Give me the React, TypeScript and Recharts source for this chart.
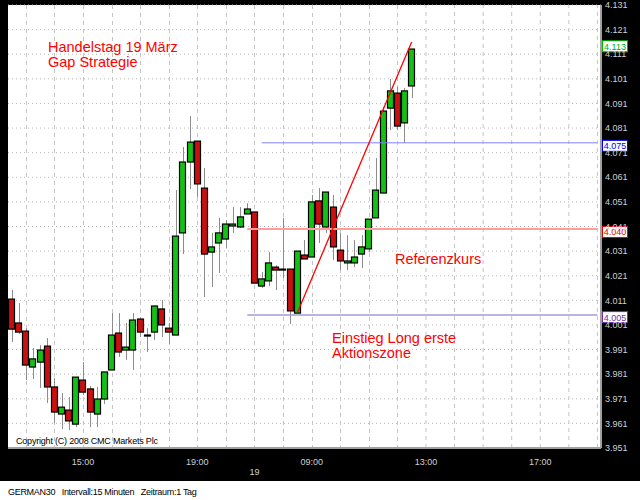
import React from 'react';
import { ComposedChart, Bar, Line, XAxis, YAxis, CartesianGrid, ReferenceLine } from 'recharts';

// 15 minute slots, day 18 afternoon and day 19
const day18Times = ['12:30','12:45','13:00','13:15','13:30','13:45','14:00','14:15','14:30','14:45',
  '15:00','15:15','15:30','15:45','16:00','16:15','16:30','16:45','17:00','17:15','17:30','17:45',
  '18:00','18:15','18:30','18:45','19:00','19:15','19:30','19:45','20:00','20:15','20:30','20:45'];
const day19Times = ['07:00','07:15','07:30','07:45','08:00','08:15','08:30','08:45','09:00','09:15',
  '09:30','09:45','10:00','10:15','10:30','10:45','11:00','11:15','11:30','11:45','12:00','12:15',
  '12:30','12:45','13:00','13:15','13:30','13:45','14:00','14:15','14:30','14:45','15:00','15:15',
  '15:30','15:45','16:00','16:15','16:30','16:45','17:00','17:15','17:30','17:45','18:00','18:15',
  '18:30','18:45','19:00'];

const opens = [4.0115, 4.0018, 3.9985, 3.9839, 3.9859, 3.9924, 3.9758, 3.9648, 3.9664, 3.9607,
  3.9786, 3.9750, 3.9648, 3.9709, 3.9827, 3.9977, 3.9908, 3.9908, 4.0034, 3.9969,
  3.9981, 4.0075, 3.9997, 3.9969, 4.0384, 4.0672, 4.0757, 4.0566, 4.0306, 4.0343,
  4.0359, 4.0412, 4.0408, 4.0461, 4.0469, 4.0168, 4.0189, 4.0245, 4.0237, 4.0237,
  4.0058, 4.0294, 4.0286, 4.0514, 4.0408, 4.0489, 4.0314, 4.0262, 4.0262, 4.0298,
  4.0319, 4.0445, 4.0546, 4.0891, 4.0952, 4.0831, 4.0981];
const highs = [4.0152, 4.0099, 3.9997, 3.9916, 3.9928, 3.9957, 3.9794, 3.9733, 3.9717, 3.9798,
  3.9859, 3.9762, 3.9758, 3.9819, 4.0058, 4.0058, 4.0018, 4.0058, 4.0042, 3.9997,
  4.0087, 4.0111, 4.0018, 4.0558, 4.0733, 4.0859, 4.0757, 4.0648, 4.0384, 4.0445,
  4.0436, 4.0489, 4.0489, 4.0505, 4.0469, 4.0225, 4.0306, 4.0253, 4.0445, 4.0237,
  4.0310, 4.0355, 4.0538, 4.0566, 4.0550, 4.0538, 4.0384, 4.0375, 4.0355, 4.0375,
  4.0440, 4.0688, 4.0896, 4.1009, 4.0977, 4.0973, 4.1131];
const lows = [3.9941, 3.9973, 3.9786, 3.9790, 3.9754, 3.9693, 3.9611, 3.9587, 3.9583, 3.9595,
  3.9725, 3.9595, 3.9595, 3.9689, 3.9827, 3.9880, 3.9868, 3.9827, 3.9961, 3.9900,
  3.9949, 3.9961, 3.9932, 3.9969, 4.0298, 4.0562, 4.0530, 4.0123, 4.0164, 4.0221,
  4.0323, 4.0384, 4.0404, 4.0461, 4.0180, 4.0160, 4.0168, 4.0152, 4.0201, 4.0014,
  4.0058, 4.0278, 4.0286, 4.0343, 4.0384, 4.0274, 4.0233, 4.0233, 4.0245, 4.0241,
  4.0306, 4.0445, 4.0546, 4.0802, 4.0802, 4.0749, 4.0932];
const closes = [3.9993, 3.9981, 3.9847, 3.9872, 3.9908, 3.9758, 3.9656, 3.9676, 3.9620, 3.9798,
  3.9737, 3.9656, 3.9709, 3.9819, 3.9969, 3.9900, 3.9920, 4.0030, 3.9981, 3.9969,
  4.0087, 4.0010, 3.9981, 4.0371, 4.0672, 4.0753, 4.0583, 4.0298, 4.0327, 4.0384,
  4.0420, 4.0420, 4.0449, 4.0481, 4.0180, 4.0197, 4.0262, 4.0233, 4.0233, 4.0067,
  4.0310, 4.0278, 4.0510, 4.0420, 4.0550, 4.0327, 4.0270, 4.0270, 4.0286, 4.0327,
  4.0440, 4.0558, 4.0879, 4.0961, 4.0818, 4.0961, 4.1131];

const yTicks = [3.951, 3.961, 3.971, 3.981, 3.991, 4.001, 4.011, 4.021, 4.031, 4.041,
  4.051, 4.061, 4.071, 4.081, 4.091, 4.101, 4.111, 4.121, 4.131];
const timeLabels = ['18 15:00', '18 19:00', '19 09:00', '19 13:00', '19 17:00'];
const dayStart = '19 07:00';

// drawn levels
const lastPrice = 4.113;
const targetLevel = 4.075;
const refLevel = 4.040;
const entryLevel = 4.005;
const trendPoints: Record<string, number> = { '19 08:30': 4.0060, '19 12:30': 4.1160 };

const slotTimes = [...day18Times.map(t => `18 ${t}`), ...day19Times.map(t => `19 ${t}`)];
const lastSlot = slotTimes[slotTimes.length - 1];
const hourSlots = slotTimes.filter(s => s.endsWith(':00'));
// hours after the last candle get a plain reference line (nothing to hide there)
const emptyHourSlots = hourSlots.filter(s => slotTimes.indexOf(s) >= opens.length);

const data = slotTimes.map((slot, i) => ({
  slot,
  open: opens[i],
  high: highs[i],
  low: lows[i],
  close: closes[i],
  range: i < opens.length ? [lows[i], highs[i]] : undefined,
  trend: trendPoints[slot],
}));

const FONT = '"Liberation Sans", Arial, sans-serif';
const HOUR_STROKE = '#c4c4c4';

const Candle = (props: any) => {
  const { x, y, width, height, payload } = props;
  if (!payload || payload.open == null) return null;
  const { open, close, high, low } = payload;
  const top = Math.min(y, y + height);
  const h = Math.abs(height);
  const pxPer = high === low ? 0 : h / (high - low);
  const yOf = (v: number) => top + (high - v) * pxPer;
  const bodyTop = yOf(Math.max(open, close));
  const bodyBottom = yOf(Math.min(open, close));
  const cx = Math.round(x + width / 2) + 0.5;
  const up = close >= open;
  return (
    <g>
      <line x1={cx} x2={cx} y1={top} y2={top + h} stroke="#8c8c8c" strokeWidth={1} />
      <rect
        x={Math.round(x) + 0.5}
        y={bodyTop}
        width={width - 1}
        height={Math.max(bodyBottom - bodyTop, 1)}
        fill={up ? '#14c014' : '#c81010'}
        stroke="#000"
        strokeWidth={1.2}
      />
    </g>
  );
};

// dashed hour line, drawn as the bar background of each full-hour slot (below the candles)
const HourLine = (props: any) => {
  const { x, y, width, height, payload } = props;
  if (!payload || !hourSlots.includes(payload.slot)) return null;
  const cx = Math.round(x + width / 2) + 0.5;
  return <line x1={cx} x2={cx} y1={y} y2={y + height} stroke={HOUR_STROKE} strokeDasharray="4 4" />;
};

const TimeTick = ({ x, y, payload }: any) => {
  const v = payload.value;
  return (
    <g>
      {timeLabels.includes(v) && (
        <text x={x} y={y + 17} textAnchor="middle" fontSize={9} fill="#d0d0d0" fontFamily={FONT}>
          {v.slice(3)}
        </text>
      )}
      {v === dayStart && (
        <text x={x} y={y + 27} textAnchor="middle" fontSize={9} fill="#d0d0d0" fontFamily={FONT}>
          {v.slice(0, 2)}
        </text>
      )}
    </g>
  );
};

const PriceTag = ({ viewBox, text, color, dy }: any) => {
  if (!viewBox) return null;
  const right = viewBox.x + viewBox.width;
  const cy = viewBox.y + dy;
  return (
    <g>
      <rect x={right + 1.5} y={cy - 5.5} width={25} height={11} fill="#fff" stroke={color} strokeWidth={1} />
      <text x={right + 14} y={cy + 3.5} textAnchor="middle" fontSize={9} fill={color} fontFamily={FONT}>
        {text}
      </text>
    </g>
  );
};

const note = (top: number, left: number, size: number, color: string): React.CSSProperties => ({
  position: 'absolute', top, left, fontSize: size, lineHeight: `${size}px`, color,
  fontFamily: FONT, whiteSpace: 'nowrap',
});

export default function App() {
  return (
    <div style={{ position: 'absolute', left: 0, top: 0, width: 640, height: 500, background: '#fff' }}>
      <div style={{ position: 'absolute', left: 0, top: 0, width: 640, height: 481, background: '#000' }}>
        <ComposedChart width={640} height={481} data={data} margin={{ top: 5, right: 0, bottom: 0, left: 8 }}>
          <CartesianGrid vertical={false} fill="#fff" fillOpacity={1} stroke="#b8b8b8" strokeDasharray="1 3" />
          <XAxis
            dataKey="slot"
            interval={0}
            tickLine={false}
            tickSize={0}
            tickMargin={0}
            height={33}
            axisLine={{ stroke: '#a0a0a0', strokeWidth: 2 }}
            tick={<TimeTick />}
          />
          <YAxis
            orientation="right"
            domain={[3.951, 4.131]}
            ticks={yTicks}
            interval={0}
            allowDataOverflow
            width={39}
            tickLine={false}
            tickSize={2}
            tickMargin={2}
            axisLine={{ stroke: '#a0a0a0', strokeWidth: 2 }}
            tick={{ fill: '#d0d0d0', fontSize: 9, fontFamily: FONT }}
            tickFormatter={(v: number) => v.toFixed(3)}
          />
          {emptyHourSlots.map(s => (
            <ReferenceLine key={s} x={s} stroke={HOUR_STROKE} strokeDasharray="4 4" />
          ))}
          <ReferenceLine segment={[{ x: '19 07:15', y: targetLevel }, { x: lastSlot, y: targetLevel }]} stroke="#8080ff" strokeWidth={1} />
          <ReferenceLine segment={[{ x: '18 20:45', y: refLevel }, { x: lastSlot, y: refLevel }]} stroke="#ff9c9c" strokeWidth={2} />
          <ReferenceLine segment={[{ x: '18 20:45', y: entryLevel }, { x: lastSlot, y: entryLevel }]} stroke="#a898d8" strokeWidth={1.5} />
          <Bar dataKey="range" barSize={7} shape={<Candle />} background={<HourLine />} isAnimationActive={false} />
          <Line dataKey="trend" stroke="#ff0000" strokeWidth={1.3} dot={false} connectNulls isAnimationActive={false} />
          <ReferenceLine y={lastPrice} stroke="none" label={<PriceTag text="4.113" color="#00b000" dy={-3} />} />
          <ReferenceLine y={targetLevel} stroke="none" label={<PriceTag text="4.075" color="#0000ff" dy={3} />} />
          <ReferenceLine y={refLevel} stroke="none" label={<PriceTag text="4.040" color="#e00000" dy={3} />} />
          <ReferenceLine y={entryLevel} stroke="none" label={<PriceTag text="4.005" color="#7030a0" dy={2} />} />
        </ComposedChart>
      </div>
      <div style={note(40, 48, 14.5, '#ff0000')}>Handelstag 19 März</div>
      <div style={note(55, 48, 14.5, '#ff0000')}>Gap Strategie</div>
      <div style={note(252, 395, 14.5, '#ff0000')}>Referenzkurs</div>
      <div style={note(331, 332, 14.5, '#ff0000')}>Einstieg Long erste</div>
      <div style={note(346, 332, 14.5, '#ff0000')}>Aktionszone</div>
      <div style={{ ...note(437, 16, 9, '#000'), letterSpacing: -0.2 }}>Copyright (C) 2008 CMC Markets Plc</div>
      <div style={{ ...note(488, 8, 9, '#000'), letterSpacing: -0.3, whiteSpace: 'pre' }}>
        {'GERMAN30   Intervall:15 Minuten   Zeitraum:1 Tag'}
      </div>
    </div>
  );
}
